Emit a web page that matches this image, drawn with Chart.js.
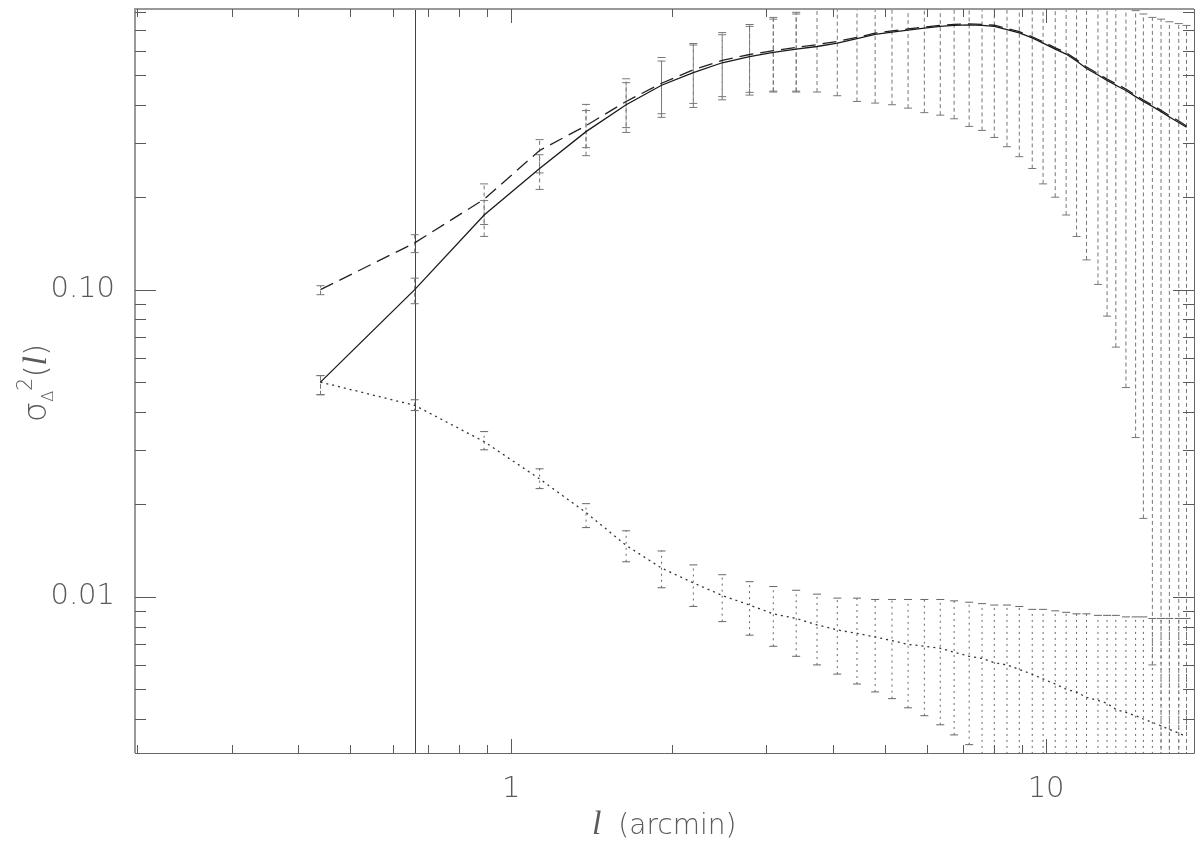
<!DOCTYPE html>
<html>
<head>
<meta charset="utf-8">
<script src="https://cdn.jsdelivr.net/npm/chart.js@4.4.1/dist/chart.umd.min.js"></script>
<style>
  html, body { margin: 0; padding: 0; background: #fff; }
</style>
</head>
<body>
<canvas id="grafikSigma" width="1200" height="845"></canvas>
<script>
// separations l (arcmin)
const SEP = [0.44, 0.66, 0.89, 1.13, 1.38, 1.64, 1.91, 2.19, 2.48, 2.79,
             3.09, 3.41, 3.73, 4.07, 4.43, 4.79, 5.15, 5.52, 5.92, 6.34,
             6.73, 7.18, 7.59, 8.00, 8.45, 8.91, 9.42, 9.87, 10.4, 10.9,
             11.4, 11.9, 12.5, 13.0, 13.5, 14.1, 14.7, 15.2, 15.8, 16.4,
             17.0, 17.7, 18.3];

// curves
const SOLID = [0.050, 0.100, 0.175, 0.248, 0.327, 0.400, 0.463, 0.509, 0.548, 0.574,
               0.592, 0.607, 0.619, 0.635, 0.657, 0.678, 0.690, 0.700, 0.710, 0.720,
               0.725, 0.728, 0.725, 0.720, 0.703, 0.686, 0.660, 0.635, 0.607, 0.585,
               0.555, 0.525, 0.500, 0.480, 0.463, 0.445, 0.425, 0.410, 0.395, 0.380,
               0.365, 0.350, 0.338];
const DASHED = [0.100, 0.142, 0.197, 0.284, 0.342, 0.410, 0.470, 0.520, 0.558, 0.583,
                0.600, 0.615, 0.628, 0.643, 0.663, 0.684, 0.696, 0.706, 0.716, 0.726,
                0.731, 0.734, 0.731, 0.726, 0.709, 0.692, 0.666, 0.641, 0.613, 0.591,
                0.561, 0.531, 0.505, 0.485, 0.468, 0.450, 0.430, 0.414, 0.399, 0.384,
                0.369, 0.354, 0.341];
const DOTTED = [0.050, 0.042, 0.032, 0.0242, 0.0188, 0.0147, 0.0124, 0.0111, 0.0101, 0.0094,
                0.0088, 0.0085, 0.0081, 0.0078, 0.0076, 0.0074, 0.0072, 0.0070, 0.0069, 0.0068,
                0.0066, 0.0064, 0.0063, 0.0061, 0.0060, 0.0058, 0.0056, 0.0054, 0.0052, 0.0050,
                0.0049, 0.0047, 0.0046, 0.0045, 0.0043, 0.0042, 0.0041, 0.0040, 0.0039, 0.0038,
                0.0037, 0.0036, 0.0035];

// error bars (values past the frame are clipped)
const DASH_HI = [0.103, 0.151, 0.221, 0.308, 0.401, 0.486, 0.570, 0.633, 0.687, 0.730,
                 0.770, 0.800, 0.820, 0.858, 0.916, 0.963, 0.992, 1.022, 1.055, 1.082,
                 1.100, 1.128, 1.130, 1.140, 1.126, 1.113, 1.084, 1.061, 1.026, 1.007,
                 0.973, 0.937, 0.906, 0.888, 0.871, 0.852, 0.810, 0.790, 0.770, 0.760,
                 0.745, 0.735, 0.725];
const DASH_LO = [0.0963, 0.132, 0.163, 0.240, 0.290, 0.337, 0.374, 0.404, 0.425, 0.439,
                 0.443, 0.443, 0.440, 0.428, 0.410, 0.405, 0.400, 0.390, 0.377, 0.370,
                 0.360, 0.340, 0.330, 0.313, 0.292, 0.271, 0.248, 0.221, 0.200, 0.175,
                 0.149, 0.125, 0.104, 0.082, 0.065, 0.048, 0.033, 0.018, 0.006, 0.001,
                 0.001, 0.001, 0.001];
const SOLID_HI = [0.0525, 0.109, 0.195, 0.275, 0.383, 0.472, 0.555, 0.626, 0.676, 0.720, 0.760, 0.790];
const SOLID_LO = [0.0455, 0.090, 0.149, 0.212, 0.273, 0.325, 0.364, 0.392, 0.415, 0.430, 0.440, 0.440];
const DOT_HI = [0.0525, 0.0438, 0.0345, 0.0261, 0.0201, 0.0164, 0.0141, 0.0127, 0.0118, 0.0112,
                0.0108, 0.0105, 0.0102, 0.0099, 0.0099, 0.0098, 0.0098, 0.0098, 0.0098, 0.0098,
                0.0097, 0.0096, 0.0095, 0.0094, 0.0094, 0.0093, 0.0091, 0.0091, 0.0090, 0.0089,
                0.0088, 0.0088, 0.0087, 0.0087, 0.0087, 0.0086, 0.0086, 0.0086, 0.0085, 0.0085,
                0.0085, 0.0085, 0.0085];
const DOT_LO = [0.0455, 0.0404, 0.0301, 0.0225, 0.0168, 0.0130, 0.0107, 0.0093, 0.0083, 0.0075,
                0.0069, 0.0064, 0.0060, 0.0056, 0.0052, 0.0049, 0.00466, 0.00435, 0.0041, 0.00383,
                0.00355, 0.0033, 0.001, 0.001, 0.001, 0.001, 0.001, 0.001, 0.001, 0.001,
                0.001, 0.001, 0.001, 0.001, 0.001, 0.001, 0.001, 0.001, 0.001, 0.001,
                0.001, 0.001, 0.001];

const CUT_X = 0.66;
const X_RANGE = [0.198, 18.9];
const Y_RANGE = [0.0031, 0.82];
const X_MAJOR = [1, 10];
const X_MINOR = [0.2, 0.3, 0.4, 0.5, 0.6, 0.7, 0.8, 0.9, 2, 3, 4, 5, 6, 7, 8, 9];
const Y_MAJOR = [0.01, 0.1];
const Y_MINOR = [0.004, 0.005, 0.006, 0.007, 0.008, 0.009,
                 0.02, 0.03, 0.04, 0.05, 0.06, 0.07, 0.08, 0.09,
                 0.2, 0.3, 0.4, 0.5, 0.6, 0.7, 0.8];

const INK = '#5a5a5a';
const FONT = 'DejaVu Sans';
const ITAL = 'italic 34px Liberation Serif';

function curve(ys) {
    return ys.map((v, i) => ({ x: SEP[i], y: v }));
}

function bars(lo, hi) {
    const pts = [];
    lo.forEach((v, i) => {
        pts.push({ x: SEP[i], y: v }, { x: SEP[i], y: hi[i] }, { x: SEP[i], y: null });
    });
    return pts;
}

function errSet(lo, hi, dash, color) {
    return {
        data: bars(lo, hi),
        borderColor: color,
        borderWidth: 1,
        borderDash: dash,
        pointStyle: 'line',
        pointRadius: 4,
        pointBorderWidth: 1,
        pointBorderColor: color,
        spanGaps: false
    };
}

const axisDecor = {
    id: 'axisDecor',
    beforeDatasetsDraw(chart) {
        const { ctx, chartArea: a, scales: { x } } = chart;
        const cx = Math.round(x.getPixelForValue(CUT_X)) + 0.5;
        ctx.save();
        ctx.strokeStyle = '#444';
        ctx.lineWidth = 1;
        ctx.beginPath();
        ctx.moveTo(cx, a.top);
        ctx.lineTo(cx, a.bottom);
        ctx.stroke();
        ctx.restore();
    },
    afterDraw(chart) {
        const { ctx, chartArea: a, scales: { x, y } } = chart;
        ctx.save();

        // frame
        ctx.lineWidth = 2;
        ctx.strokeStyle = '#999';
        ctx.beginPath();
        ctx.moveTo(a.left, a.bottom); ctx.lineTo(a.left, a.top); ctx.lineTo(a.right, a.top);
        ctx.stroke();
        ctx.lineWidth = 1;
        ctx.strokeStyle = '#666';
        ctx.beginPath();
        ctx.moveTo(a.left, a.bottom + 0.5); ctx.lineTo(a.right + 0.5, a.bottom + 0.5); ctx.lineTo(a.right + 0.5, a.top);
        ctx.stroke();

        // inward ticks on all sides
        ctx.strokeStyle = INK;
        ctx.beginPath();
        X_MAJOR.concat(X_MINOR).forEach(v => {
            const len = X_MAJOR.includes(v) ? 14 : 8;
            const px = Math.round(x.getPixelForValue(v)) + 0.5;
            ctx.moveTo(px, a.bottom); ctx.lineTo(px, a.bottom - len);
            ctx.moveTo(px, a.top); ctx.lineTo(px, a.top + len);
        });
        Y_MAJOR.concat(Y_MINOR).forEach(v => {
            const len = Y_MAJOR.includes(v) ? 21 : 11;
            const py = Math.round(y.getPixelForValue(v)) + 0.5;
            ctx.moveTo(a.left, py); ctx.lineTo(a.left + len, py);
            ctx.moveTo(a.right, py); ctx.lineTo(a.right - len, py);
        });
        ctx.stroke();

        // x title: l (arcmin)
        ctx.fillStyle = INK;
        ctx.textBaseline = 'alphabetic';
        const fReg = '200 28px ' + FONT;
        ctx.font = ITAL;
        const w1 = ctx.measureText('l').width;
        const tx = 592;
        ctx.fillText('l', tx, 834);
        ctx.font = fReg; ctx.fillText(' (arcmin)', tx + w1 + 8, 834);

        // y title: sigma_Delta^2(l)
        const parts = [
            { t: '\u03c3', f: '200 32px ' + FONT, dy: 0 },
            { t: '\u0394', f: '200 16px ' + FONT, dy: 7 },
            { t: '2', f: '200 21px ' + FONT, dy: -14 },
            { t: '(', f: '200 31px ' + FONT, dy: 0 },
            { t: 'l', f: ITAL, dy: 0 },
            { t: ')', f: '200 31px ' + FONT, dy: 0 }
        ];
        let total = 0;
        parts.forEach(p => { ctx.font = p.f; p.w = ctx.measureText(p.t).width; total += p.w; });
        ctx.translate(46, 383);
        ctx.rotate(-Math.PI / 2);
        let px = -total / 2;
        parts.forEach(p => { ctx.font = p.f; ctx.fillText(p.t, px, p.dy); px += p.w; });

        ctx.restore();
    }
};

const ctx = document.getElementById('grafikSigma').getContext('2d');

new Chart(ctx, {
    type: 'line',
    data: {
        datasets: [
            { data: curve(SOLID), borderColor: '#1a1a1a', borderWidth: 1.3, pointRadius: 0 },
            { data: curve(DASHED), borderColor: '#222', borderWidth: 1.3, borderDash: [14, 7], pointRadius: 0 },
            { data: curve(DOTTED), borderColor: '#333', borderWidth: 1.3, borderDash: [2, 4], pointRadius: 0 },
            errSet(DASH_LO, DASH_HI, [4, 3], '#777'),
            errSet(SOLID_LO, SOLID_HI, [4, 3], '#777'),
            errSet(DOT_LO, DOT_HI, [2, 4], '#666')
        ]
    },
    options: {
        responsive: false,
        animation: false,
        layout: { padding: { top: 9, right: 6, left: 0, bottom: 0 } },
        plugins: {
            legend: { display: false },
            tooltip: { enabled: false }
        },
        scales: {
            x: {
                type: 'logarithmic',
                min: X_RANGE[0],
                max: X_RANGE[1],
                grid: { display: false },
                border: { display: false },
                afterBuildTicks: s => { s.ticks = X_MAJOR.map(v => ({ value: v })); },
                afterFit: s => { s.height = 92; s.paddingLeft = 0; s.paddingRight = 0; },
                ticks: {
                    autoSkip: false,
                    maxRotation: 0,
                    padding: 11,
                    color: INK,
                    font: { family: FONT, size: 29, weight: '200' },
                    callback: v => String(v)
                }
            },
            y: {
                type: 'logarithmic',
                min: Y_RANGE[0],
                max: Y_RANGE[1],
                grid: { display: false },
                border: { display: false },
                afterBuildTicks: s => { s.ticks = Y_MAJOR.map(v => ({ value: v })); },
                afterFit: s => { s.width = 135; s.paddingTop = 0; s.paddingBottom = 0; },
                ticks: {
                    autoSkip: false,
                    padding: 12,
                    color: INK,
                    font: { family: FONT, size: 29, weight: '200' },
                    callback: v => v.toFixed(2)
                }
            }
        }
    },
    plugins: [axisDecor]
});
</script>
</body>
</html>
